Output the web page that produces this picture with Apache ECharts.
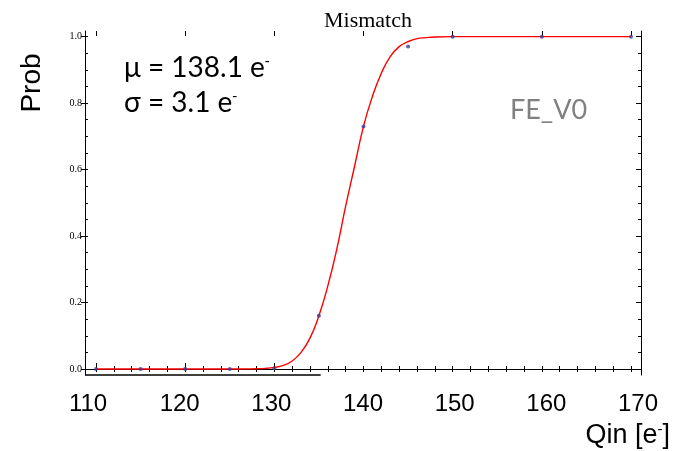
<!DOCTYPE html>
<html>
<head>
<meta charset="utf-8">
<script src="https://cdn.jsdelivr.net/npm/echarts@6/dist/echarts.min.js"></script>
<style>
html,body{margin:0;padding:0;background:#fff;}
#c{width:673px;height:451px;}
</style>
</head>
<body>
<div id="c"></div>
<script>
// ---- data ----
const dataX = [110, 115, 120, 125, 130, 135, 140, 145, 150, 160, 170];
const dataY = [0, 0, 0, 0, 0.002, 0.16, 0.73, 0.97, 1.0, 1.0, 1.0];
const fitX = [110, 124, 126, 128, 129, 130, 131, 132, 133, 134, 135, 136, 137, 138, 139, 140, 141, 142, 143, 144, 145, 146, 147, 148, 150, 152, 170];
const fitY = [0, 0, 0, 0.001, 0.002, 0.005, 0.011, 0.024, 0.05, 0.093, 0.16, 0.25, 0.36, 0.49, 0.61, 0.73, 0.82, 0.89, 0.94, 0.97, 0.985, 0.994, 0.997, 0.999, 1.0, 1.0, 1.0];
const xTickLabels = [110, 120, 130, 140, 150, 160, 170];
const xMinorTicks = [110,112,114,116,118,120,122,124,126,128,130,132,134,136,138,140,142,144,146,148,150,152,154,156,158,160,162,164,166,168,170];
const xMajorTicks = [110, 120, 130, 140, 150, 160, 170];
const yMajorTicks = [0, 0.2, 0.4, 0.6, 0.8, 1.0];
const yMinorTicks = [0,0.05,0.1,0.15,0.2,0.25,0.3,0.35,0.4,0.45,0.5,0.55,0.6,0.65,0.7,0.75,0.8,0.85,0.9,0.95,1.0];
const titleText = 'Mismatch';

const X_MIN = 108.77, X_MAX = 171.12;
const XL_MIN = 109.67, XL_MAX = 170.33;
const Y_MIN = -0.018, Y_MAX = 1.017;

const chart = echarts.init(document.getElementById('c'), null, {renderer: 'canvas'});
const black = '#000';
const noLine = {show: false};
const supRich = {
  base: {},
  sup: {fontSize: 15, verticalAlign: 'top', lineHeight: 20}
};

const option = {
  animation: false,
  backgroundColor: '#fff',
  title: {
    text: titleText,
    left: 363, textAlign: 'center',
    top: 5,
    textStyle: {fontFamily: 'Liberation Serif', fontSize: 22, fontWeight: 'normal', color: black}
  },
  grid: {left: 85, right: 32, top: 31, bottom: 76, containLabel: false},
  xAxis: [
    {
      type: 'value', position: 'bottom', min: X_MIN, max: X_MAX,
      axisLine: noLine, splitLine: {show: false},
      axisTick: {show: true, inside: true, length: 3, customValues: xMinorTicks, lineStyle: {color: black}},
      axisLabel: {show: false}
    },
    {
      type: 'value', position: 'bottom', min: X_MIN, max: X_MAX,
      axisLine: noLine, splitLine: {show: false},
      axisTick: {show: true, inside: true, length: 6, customValues: [110, 120, 130], lineStyle: {color: black}},
      axisLabel: {show: false}
    },
    {
      type: 'value', position: 'bottom', min: XL_MIN, max: XL_MAX,
      axisLine: noLine, splitLine: {show: false}, axisTick: {show: false},
      axisLabel: {show: true, customValues: xTickLabels, margin: 17,
        fontFamily: 'Liberation Sans', fontSize: 24, color: black}
    },
    {
      type: 'value', position: 'top', min: X_MIN, max: X_MAX,
      axisLine: {show: true, lineStyle: {color: black, width: 1}}, splitLine: {show: false},
      axisTick: {show: true, inside: true, length: 3, customValues: xMinorTicks, lineStyle: {color: black}},
      axisLabel: {show: false}
    },
    {
      type: 'value', position: 'top', min: X_MIN, max: X_MAX,
      axisLine: noLine, splitLine: {show: false},
      axisTick: {show: true, inside: true, length: 5, customValues: xMajorTicks, lineStyle: {color: black}},
      axisLabel: {show: false}
    }
  ],
  yAxis: [
    {
      type: 'value', position: 'left', min: Y_MIN, max: Y_MAX,
      axisLine: {show: true, lineStyle: {color: black, width: 1}}, splitLine: {show: false},
      axisTick: {show: true, inside: false, length: 4, customValues: yMajorTicks, lineStyle: {color: black}},
      axisLabel: {show: true, customValues: yMajorTicks, margin: 3,
        formatter: v => v.toFixed(1),
        fontFamily: 'Liberation Serif', fontSize: 10, color: black}
    },
    {
      type: 'value', position: 'left', min: Y_MIN, max: Y_MAX,
      axisLine: noLine, splitLine: {show: false},
      axisTick: {show: true, inside: true, length: 3, customValues: yMinorTicks, lineStyle: {color: black}},
      axisLabel: {show: false}
    },
    {
      type: 'value', position: 'right', min: Y_MIN, max: Y_MAX,
      axisLine: {show: true, lineStyle: {color: black, width: 1}}, splitLine: {show: false},
      axisTick: {show: true, inside: true, length: 3, customValues: yMinorTicks, lineStyle: {color: black}},
      axisLabel: {show: false}
    },
    {
      type: 'value', position: 'right', min: Y_MIN, max: Y_MAX,
      axisLine: noLine, splitLine: {show: false},
      axisTick: {show: true, inside: true, length: 5, customValues: yMajorTicks, lineStyle: {color: black}},
      axisLabel: {show: false}
    }
  ],
  series: [
    {
      name: 'fit', type: 'line', xAxisIndex: 0, yAxisIndex: 0,
      data: fitX.map((x, i) => [x, fitY[i]]),
      smooth: 0.5, showSymbol: false, symbol: 'none',
      lineStyle: {color: '#ff0000', width: 1.4}, z: 3
    },
    {
      name: 'data', type: 'scatter', xAxisIndex: 0, yAxisIndex: 0,
      data: dataX.map((x, i) => [x, dataY[i]]),
      symbol: 'circle', symbolSize: 4,
      itemStyle: {color: '#3b3b98'}, z: 4
    }
  ]
};
chart.setOption(option);

const px0 = chart.convertToPixel({xAxisIndex: 0}, X_MIN);
const px1 = chart.convertToPixel({xAxisIndex: 0}, 135.2);
const pyB = chart.convertToPixel({yAxisIndex: 0}, Y_MIN);
chart.setOption({
  graphic: [
    {type: 'line', shape: {x1: px0, y1: pyB, x2: px1, y2: pyB}, style: {stroke: black, lineWidth: 1.5}, z: 10},
    {type: 'text', x: 32, y: 83, rotation: Math.PI / 2,
      style: {text: 'Prob', font: '28px "Liberation Sans"', fill: black, align: 'center', verticalAlign: 'middle'}},
    {type: 'text', x: 124, y: 68,
      style: {text: '{base|μ = 138.1 e}{sup|-}', rich: supRich, font: '28px Lato', fill: black, align: 'left', verticalAlign: 'middle'}},
    {type: 'text', x: 124, y: 103,
      style: {text: '{base|σ = 3.1 e}{sup|-}', rich: supRich, font: '28px Lato', fill: black, align: 'left', verticalAlign: 'middle'}},
    {type: 'text', x: 510, y: 110,
      style: {text: 'FE_V0', font: '27px Lato', fill: '#808080', align: 'left', verticalAlign: 'middle'}},
    {type: 'text', x: 670, y: 436,
      style: {text: '{base|Qin [e}{sup|-}{base|]}', rich: {base: {}, sup: {fontSize: 15, verticalAlign: 'top', lineHeight: 20}},
        font: '27px "Liberation Sans"', fill: black, align: 'right', verticalAlign: 'middle'}}
  ]
});
</script>
</body>
</html>
